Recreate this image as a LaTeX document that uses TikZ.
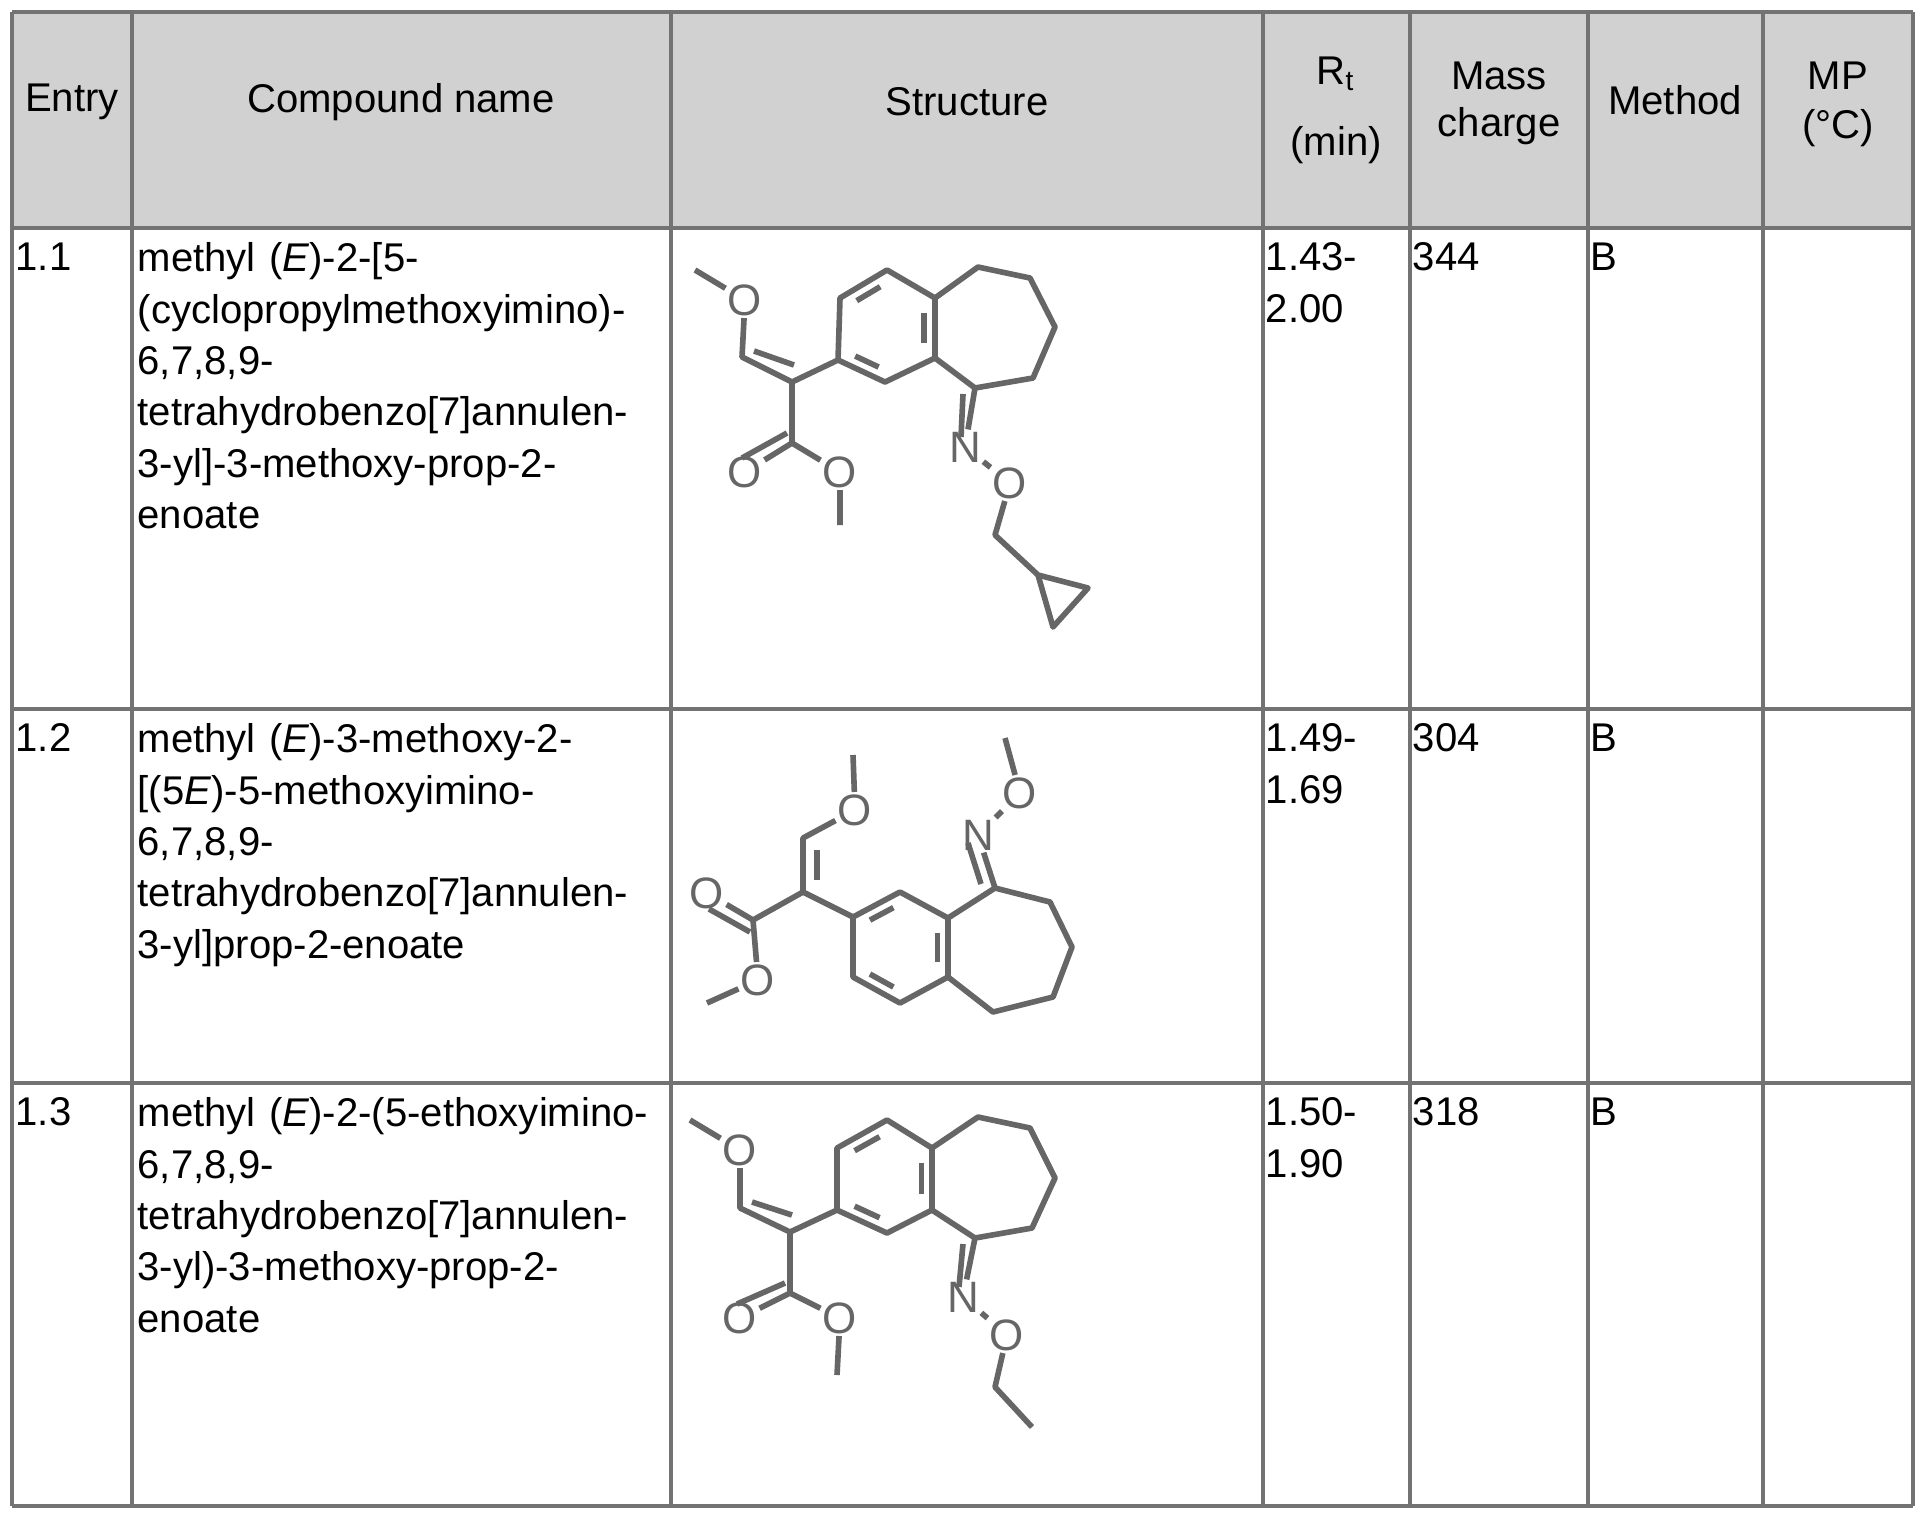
\documentclass[tikz,border=0pt]{standalone}
\usepackage{fontspec}
\setmainfont{Liberation Sans}
\usetikzlibrary{calc}
\begin{document}
\begin{tikzpicture}[x=0.01cm,y=-0.01cm,
  grid/.style={draw=black!55,line width=0.9pt},
  txt/.style={anchor=north west,inner sep=0pt,align=left,font=\fontsize{11.4pt}{14.6pt}\selectfont},
  hd/.style={inner sep=0pt,align=center,font=\fontsize{11.4pt}{14.6pt}\selectfont},
  atom/.style={inner sep=0.5pt,text=black!60,font=\fontsize{12.5pt}{13pt}\selectfont},
  bond/.style={draw=black!60,line width=1.6pt},
]
\useasboundingbox (0,0) rectangle (1922,1514);
\fill[white] (0,0) rectangle (1922,1514);
\fill[black!18] (12,12) rectangle (1913,228);
% grid
\foreach \x in {12,132,671,1263,1410,1588,1763,1913} \draw[grid] (\x,12) -- (\x,1506);
\foreach \y in {12,228,709,1083,1506} \draw[grid] (12,\y) -- (1913,\y);
% header
\node[hd] (h1) at (72,102) {Entry};
\node[hd] (h2) at (401,102) {Compound name};
\node[hd] (h3) at (967,102) {Structure};
\node[hd] (h4) at (1336,74) {R\textsubscript{t}};
\node[hd] (h4b) at (1336,145) {(min)};
\node[hd] (h5) at (1499,76) {Mass};
\node[hd] (h5b) at (1499,126) {charge};
\node[hd] (h6) at (1675,100) {Method};
\node[hd] (h7) at (1838,76) {MP};
\node[hd] (h7b) at (1838,128) {(°C)};
% row 1
\node[txt] (e1) at (15,242) {1.1};
\node[txt,text width=520] (n1) at (137,242) {methyl (\textit{E})-2-[5-\\(cyclopropylmethoxyimino)-\\6,7,8,9-\\tetrahydrobenzo[7]annulen-\\3-yl]-3-methoxy-prop-2-\\enoate};
\node[txt] (r1) at (1265,242) {1.43-\\2.00};
\node[txt] (m1) at (1412,242) {344};
\node[txt] (t1) at (1590,242) {B};
% row 2
\node[txt] (e2) at (15,723) {1.2};
\node[txt,text width=520] (n2) at (137,723) {methyl (\textit{E})-3-methoxy-2-\\{}[(5\textit{E})-5-methoxyimino-\\6,7,8,9-\\tetrahydrobenzo[7]annulen-\\3-yl]prop-2-enoate};
\node[txt] (r2) at (1265,723) {1.49-\\1.69};
\node[txt] (m2) at (1412,723) {304};
\node[txt] (t2) at (1590,723) {B};
% row 3
\node[txt] (e3) at (15,1097) {1.3};
\node[txt,text width=540] (n3) at (137,1097) {methyl (\textit{E})-2-(5-ethoxyimino-\\6,7,8,9-\\tetrahydrobenzo[7]annulen-\\3-yl)-3-methoxy-prop-2-\\enoate};
\node[txt] (r3) at (1265,1097) {1.50-\\1.90};
\node[txt] (m3) at (1412,1097) {318};
\node[txt] (t3) at (1590,1097) {B};

% ---------- structure 1.1 ----------
\begin{scope}
\coordinate (aMe) at (695,270); \node[atom] (aO1) at (745,300) {O};
\coordinate (aCH) at (742,357); \coordinate (aCa) at (792,382);
\coordinate (aA) at (840,298); \coordinate (aB) at (887,270); \coordinate (aC) at (935,298);
\coordinate (aD) at (935,358); \coordinate (aE) at (885,382); \coordinate (aF) at (838,360);
\coordinate (acen) at (886,328);
\coordinate (a6) at (978,267); \coordinate (a7) at (1030,278); \coordinate (a8) at (1055,327);
\coordinate (a9) at (1033,378); \coordinate (a5) at (975,388);
\coordinate (aEs) at (792,443); \node[atom] (aO2) at (745,472) {O}; \node[atom] (aO3) at (840,472) {O};
\coordinate (aMe2) at (840,525);
\node[atom] (aN) at (965,447) {N}; \node[atom] (aO4) at (1010,483) {O};
\coordinate (aCH2) at (995,535); \coordinate (aP1) at (1038,575); \coordinate (aP2) at (1088,588); \coordinate (aP3) at (1053,627);
\draw[bond,line join=round] (aMe) -- (aO1) -- (aCH) -- (aCa) -- (aF) -- (aA) -- (aB) -- (aC) -- (aD) -- (aE) -- (aF);
\draw[bond,line join=round] (aC) -- (a6) -- (a7) -- (a8) -- (a9) -- (a5) -- (aD);
\foreach \p/\q in {aA/aB,aC/aD,aE/aF}
  \draw[bond] ($($(\p)!.18!(\q)$)!.22!(acen)$) -- ($($(\q)!.18!(\p)$)!.22!(acen)$);
\draw[bond] ($(aCH)+(12,-6)$) -- ($(aCa)+(2,-17)$);
\draw[bond] (aCa) -- (aEs) -- (aO2); \draw[bond] ($(aEs)+(-5,-10)$) -- ($(aO2)+(-3,-14)$);
\draw[bond] (aEs) -- (aO3) -- (aMe2);
\draw[bond,line join=round] (a5) -- (aN) -- (aO4) -- (aCH2) -- (aP1) -- (aP2) -- (aP3) -- (aP1);
\draw[bond] ($(a5)+(-12,6)$) -- ($(aN)+(-4,-10)$);
\end{scope}

% ---------- structure 1.2 ----------
\begin{scope}
\coordinate (bMe) at (853,755); \node[atom] (bO1) at (855,810) {O};
\coordinate (bCH) at (803,838); \coordinate (bCa) at (803,892);
\coordinate (bEs) at (753,920); \node[atom] (bO2) at (707,893) {O}; \node[atom] (bO3) at (758,980) {O};
\coordinate (bMe2) at (707,1003);
\coordinate (bA) at (853,917); \coordinate (bB) at (900,892); \coordinate (bC) at (948,918);
\coordinate (bD) at (948,977); \coordinate (bE) at (900,1003); \coordinate (bF) at (853,977);
\coordinate (bcen) at (900,947);
\coordinate (b5) at (995,888); \coordinate (b6) at (1050,902); \coordinate (b7) at (1072,947);
\coordinate (b8) at (1053,997); \coordinate (b9) at (993,1012);
\node[atom] (bN) at (978,835) {N}; \node[atom] (bO4) at (1020,793) {O}; \coordinate (bMe3) at (1005,738);
\draw[bond,line join=round] (bMe) -- (bO1) -- (bCH) -- (bCa) -- (bA) -- (bB) -- (bC) -- (bD) -- (bE) -- (bF) -- (bA);
\draw[bond] (bCa) -- (bEs) -- (bO2); \draw[bond] ($(bEs)+(-3,12)$) -- ($(bO2)+(2,16)$);
\draw[bond] (bEs) -- (bO3) -- (bMe2);
\draw[bond] ($(bCH)+(14,12)$) -- ($(bCa)+(14,-12)$);
\foreach \p/\q in {bA/bB,bC/bD,bE/bF}
  \draw[bond] ($($(\p)!.18!(\q)$)!.22!(bcen)$) -- ($($(\q)!.18!(\p)$)!.22!(bcen)$);
\draw[bond,line join=round] (bC) -- (b5) -- (b6) -- (b7) -- (b8) -- (b9) -- (bD);
\draw[bond] (b5) -- (bN) -- (bO4) -- (bMe3);
\draw[bond] ($(b5)+(-14,-4)$) -- ($(bN)+(-10,8)$);
\end{scope}

% ---------- structure 1.3 ----------
\begin{scope}
\coordinate (cMe) at (690,1120); \node[atom] (cO1) at (740,1150) {O};
\coordinate (cCH) at (740,1208); \coordinate (cCa) at (790,1232);
\coordinate (cA) at (837,1148); \coordinate (cB) at (887,1120); \coordinate (cC) at (932,1148);
\coordinate (cD) at (932,1210); \coordinate (cE) at (887,1233); \coordinate (cF) at (837,1210);
\coordinate (ccen) at (885,1178);
\coordinate (c6) at (978,1117); \coordinate (c7) at (1030,1128); \coordinate (c8) at (1055,1178);
\coordinate (c9) at (1032,1228); \coordinate (c5) at (975,1238);
\coordinate (cEs) at (790,1293); \node[atom] (cO2) at (740,1318) {O}; \node[atom] (cO3) at (840,1318) {O};
\coordinate (cMe2) at (837,1375);
\node[atom] (cN) at (963,1297) {N}; \node[atom] (cO4) at (1007,1335) {O};
\coordinate (cCH2) at (995,1387); \coordinate (cCH3) at (1032,1427);
\draw[bond,line join=round] (cMe) -- (cO1) -- (cCH) -- (cCa) -- (cF) -- (cA) -- (cB) -- (cC) -- (cD) -- (cE) -- (cF);
\draw[bond,line join=round] (cC) -- (c6) -- (c7) -- (c8) -- (c9) -- (c5) -- (cD);
\foreach \p/\q in {cA/cB,cC/cD,cE/cF}
  \draw[bond] ($($(\p)!.18!(\q)$)!.22!(ccen)$) -- ($($(\q)!.18!(\p)$)!.22!(ccen)$);
\draw[bond] ($(cCH)+(12,-6)$) -- ($(cCa)+(2,-17)$);
\draw[bond] (cCa) -- (cEs) -- (cO2); \draw[bond] ($(cEs)+(-5,-10)$) -- ($(cO2)+(-3,-14)$);
\draw[bond] (cEs) -- (cO3) -- (cMe2);
\draw[bond,line join=round] (c5) -- (cN) -- (cO4) -- (cCH2) -- (cCH3);
\draw[bond] ($(c5)+(-12,6)$) -- ($(cN)+(-4,-10)$);
\end{scope}
\end{tikzpicture}
\end{document}
